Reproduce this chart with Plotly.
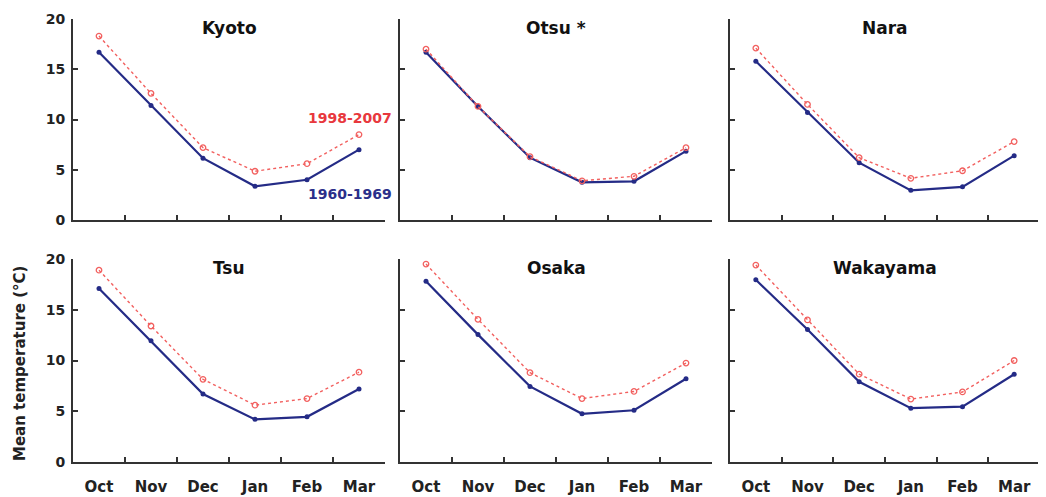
import plotly.graph_objects as go

months = ["Oct", "Nov", "Dec", "Jan", "Feb", "Mar"]
cities = ["Kyoto", "Otsu *", "Nara", "Tsu", "Osaka", "Wakayama"]
y_ticks = [0, 5, 10, 15, 20]

# 1998-2007 means (red, dotted, open circles)
recent_kyoto = [18.3, 12.6, 7.2, 4.85, 5.6, 8.5]
recent_otsu = [17.0, 11.3, 6.3, 3.9, 4.35, 7.2]
recent_nara = [17.1, 11.5, 6.2, 4.15, 4.9, 7.8]
recent_tsu = [18.9, 13.4, 8.15, 5.6, 6.25, 8.85]
recent_osaka = [19.5, 14.05, 8.8, 6.25, 6.95, 9.75]
recent_wakayama = [19.4, 14.0, 8.65, 6.2, 6.9, 10.0]

# 1960-1969 means (blue, solid, filled circles)
old_kyoto = [16.7, 11.4, 6.15, 3.35, 4.0, 7.0]
old_otsu = [16.7, 11.3, 6.2, 3.75, 3.85, 6.85]
old_nara = [15.8, 10.7, 5.7, 2.95, 3.3, 6.4]
old_tsu = [17.1, 11.95, 6.7, 4.2, 4.45, 7.2]
old_osaka = [17.8, 12.55, 7.45, 4.75, 5.1, 8.2]
old_wakayama = [17.95, 13.05, 7.9, 5.3, 5.45, 8.65]

recent = [recent_kyoto, recent_otsu, recent_nara, recent_tsu, recent_osaka, recent_wakayama]
old = [old_kyoto, old_otsu, old_nara, old_tsu, old_osaka, old_wakayama]

OFF = 8  # default page body margin
W, H = 1046 - OFF, 497 - OFF
BLUE = "#242b86"
RED = "#f2605f"
AXC = "#333333"
FONT = "DejaVu Sans, Liberation Sans, Arial, sans-serif"

x_dom_px = [(73 - OFF, 385 - OFF), (400 - OFF, 712 - OFF), (730 - OFF, 1040 - OFF)]
y_dom_px = [(19 - OFF, 220 - OFF), (259 - OFF, 462 - OFF)]

fig = go.Figure()
layout = {}
annotations = []

for i, city in enumerate(cities):
    r, c = divmod(i, 3)
    n = i + 1
    xa = "x" if n == 1 else f"x{n}"
    ya = "y" if n == 1 else f"y{n}"
    fig.add_trace(go.Scatter(
        x=months, y=old[i], xaxis=xa, yaxis=ya, mode="lines+markers",
        line=dict(color=BLUE, width=2.2),
        marker=dict(symbol="circle", size=5, color=BLUE),
        showlegend=False, cliponaxis=False))
    fig.add_trace(go.Scatter(
        x=months, y=recent[i], xaxis=xa, yaxis=ya, mode="lines+markers",
        line=dict(color=RED, width=1.4, dash="dot"),
        marker=dict(symbol="circle-open", size=5.5, color=RED, line=dict(width=1.3)),
        showlegend=False, cliponaxis=False))

    x0, x1 = x_dom_px[c]
    y0, y1 = y_dom_px[r]
    xkey = "xaxis" if n == 1 else f"xaxis{n}"
    ykey = "yaxis" if n == 1 else f"yaxis{n}"
    layout[xkey] = dict(
        domain=[x0 / W, x1 / W], anchor=ya, type="category",
        categoryorder="array", categoryarray=months, automargin=False,
        range=[-0.5, 5.5], showgrid=False, zeroline=False,
        showline=True, linecolor=AXC, linewidth=2,
        ticks="inside", tickson="boundaries", ticklen=5, tickwidth=1.5, tickcolor=AXC,
        showticklabels=(r == 1), ticklabelstandoff=10,
        tickfont=dict(family=FONT, size=15, color="#222222", weight="bold"),
        fixedrange=True)
    layout[ykey] = dict(
        domain=[1 - y1 / H, 1 - y0 / H], anchor=xa, automargin=False,
        range=[0, 20], tickvals=y_ticks, showgrid=False, zeroline=False,
        showline=True, linecolor=AXC, linewidth=2,
        ticks="inside", ticklen=5, tickwidth=1.5, tickcolor=AXC,
        showticklabels=(c == 0), ticklabelstandoff=3,
        tickfont=dict(family=FONT, size=14, color="#222222", weight="bold"),
        fixedrange=True)

    annotations.append(dict(
        text=f"<b>{city}</b>", xref="paper", yref="paper",
        x=(x0 + x1) / 2 / W, y=1 - (y0 + 9) / H, xanchor="center", yanchor="middle",
        showarrow=False, font=dict(family=FONT, size=17, color="#111111")))

annotations.append(dict(
    text="<b>1998-2007</b>", xref="x", yref="y", x=4.82, y=10.1,
    xanchor="center", yanchor="middle", showarrow=False,
    font=dict(family=FONT, size=14, color="#e8383d")))
annotations.append(dict(
    text="<b>1960-1969</b>", xref="x", yref="y", x=4.82, y=2.6,
    xanchor="center", yanchor="middle", showarrow=False,
    font=dict(family=FONT, size=14, color="#2b2f8a")))
annotations.append(dict(
    text="<b>Mean temperature (°C)</b>", xref="paper", yref="paper",
    x=(20 - OFF) / W, y=1 - (364 - OFF) / H, xanchor="center", yanchor="middle",
    textangle=-90, showarrow=False,
    font=dict(family=FONT, size=15, color="#222222")))

fig.update_layout(
    width=W, height=H,
    margin=dict(l=0, r=0, t=0, b=0),
    paper_bgcolor="white", plot_bgcolor="white",
    annotations=annotations,
    showlegend=False,
    **layout)

fig.write_html("out.html")
